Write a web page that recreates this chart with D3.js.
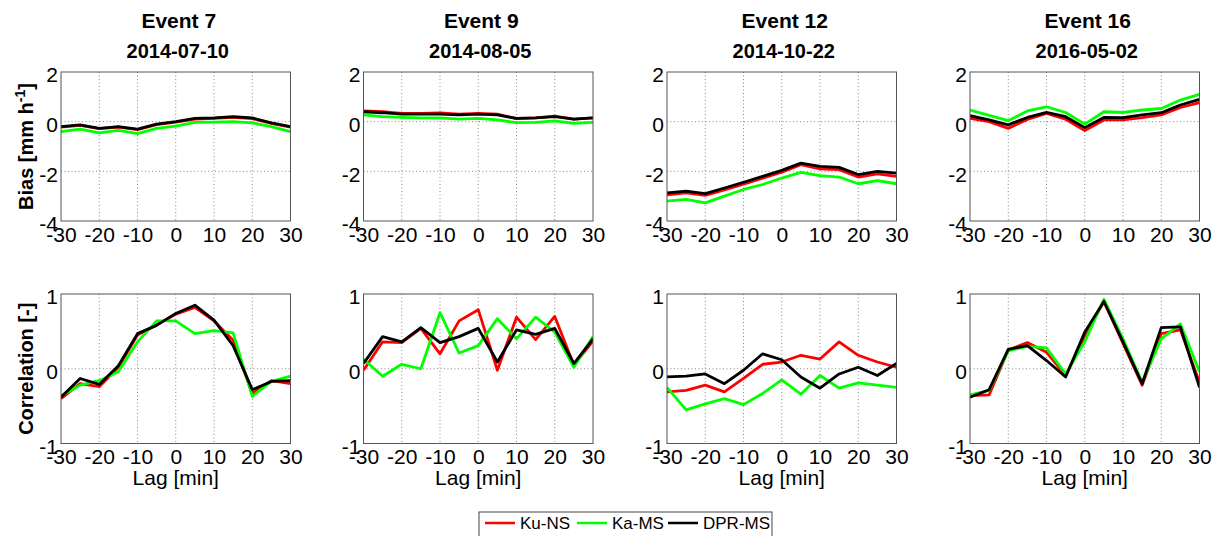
<!DOCTYPE html>
<html>
<head>
<meta charset="utf-8">
<script src="https://cdn.jsdelivr.net/npm/d3@7"></script>
<style>
  body { margin: 0; background: #fff; }
  text { font-family: "Liberation Sans", Arial, sans-serif; fill: #000; }
</style>
</head>
<body>
<svg id="chart" width="1220" height="536"></svg>
<script>
// lag axis and event labels
var lags = [-30, -25, -20, -15, -10, -5, 0, 5, 10, 15, 20, 25, 30];
var events = ["Event 7", "Event 9", "Event 12", "Event 16"];
var dates = ["2014-07-10", "2014-08-05", "2014-10-22", "2016-05-02"];
var seriesNames = ["Ku-NS", "Ka-MS", "DPR-MS"];
var seriesColors = ["#ff0000", "#00ff00", "#000000"];
var lagTicks = [-30, -20, -10, 0, 10, 20, 30];
var biasTicks = [-4, -2, 0, 2];
var corrTicks = [-1, 0, 1];

// bias [mm h-1], one array per event
var biasKu = [
  [-0.22, -0.15, -0.28, -0.22, -0.32, -0.12, -0.02, 0.1, 0.13, 0.17, 0.12, -0.07, -0.22],
  [0.43, 0.4, 0.33, 0.33, 0.35, 0.3, 0.33, 0.3, 0.12, 0.15, 0.22, 0.1, 0.15],
  [-2.95, -2.87, -2.97, -2.75, -2.52, -2.28, -2.03, -1.73, -1.9, -1.93, -2.23, -2.1, -2.2],
  [0.13, 0.0, -0.27, 0.09, 0.33, 0.1, -0.36, 0.07, 0.07, 0.16, 0.27, 0.57, 0.77]
];
var biasKa = [
  [-0.4, -0.3, -0.45, -0.35, -0.48, -0.27, -0.18, -0.03, -0.02, 0.0, -0.05, -0.2, -0.4],
  [0.27, 0.2, 0.17, 0.15, 0.15, 0.1, 0.13, 0.07, -0.04, -0.03, 0.03, -0.07, -0.03],
  [-3.2, -3.13, -3.27, -3.0, -2.73, -2.53, -2.27, -2.04, -2.17, -2.23, -2.5, -2.37, -2.5],
  [0.47, 0.25, 0.04, 0.43, 0.6, 0.37, -0.1, 0.4, 0.37, 0.47, 0.53, 0.87, 1.1]
];
var biasDpr = [
  [-0.2, -0.13, -0.27, -0.2, -0.3, -0.1, 0.0, 0.13, 0.15, 0.2, 0.15, -0.05, -0.2],
  [0.4, 0.36, 0.3, 0.3, 0.3, 0.27, 0.3, 0.27, 0.13, 0.15, 0.2, 0.1, 0.15],
  [-2.87, -2.8, -2.9, -2.67, -2.44, -2.2, -1.96, -1.67, -1.8, -1.84, -2.13, -2.0, -2.07],
  [0.24, 0.07, -0.13, 0.17, 0.37, 0.2, -0.24, 0.17, 0.16, 0.27, 0.36, 0.67, 0.9]
];

// correlation [-], one array per event
var corrKu = [
  [-0.4, -0.2, -0.24, 0.02, 0.45, 0.59, 0.73, 0.82, 0.64, 0.38, -0.33, -0.16, -0.2],
  [-0.02, 0.36, 0.35, 0.54, 0.2, 0.64, 0.79, -0.02, 0.69, 0.39, 0.7, 0.05, 0.37],
  [-0.31, -0.29, -0.22, -0.31, -0.13, 0.06, 0.09, 0.18, 0.13, 0.36, 0.18, 0.09, 0.02],
  [-0.36, -0.35, 0.25, 0.35, 0.22, -0.09, 0.43, 0.9, 0.34, -0.22, 0.47, 0.52, -0.18]
];
var corrKa = [
  [-0.36, -0.22, -0.16, -0.04, 0.36, 0.64, 0.64, 0.47, 0.51, 0.48, -0.37, -0.17, -0.1],
  [0.13, -0.1, 0.06, 0.0, 0.75, 0.21, 0.31, 0.67, 0.4, 0.69, 0.49, 0.02, 0.43],
  [-0.25, -0.55, -0.47, -0.4, -0.48, -0.33, -0.15, -0.34, -0.09, -0.26, -0.19, -0.22, -0.25],
  [-0.35, -0.29, 0.24, 0.3, 0.28, -0.07, 0.36, 0.93, 0.4, -0.18, 0.4, 0.6, -0.04]
];
var corrDpr = [
  [-0.38, -0.13, -0.21, 0.04, 0.47, 0.58, 0.74, 0.85, 0.65, 0.31, -0.28, -0.17, -0.16],
  [0.07, 0.43, 0.36, 0.55, 0.35, 0.43, 0.54, 0.09, 0.52, 0.46, 0.54, 0.07, 0.4],
  [-0.11, -0.1, -0.07, -0.2, -0.02, 0.2, 0.12, -0.11, -0.26, -0.07, 0.02, -0.09, 0.07],
  [-0.38, -0.28, 0.26, 0.31, 0.11, -0.11, 0.49, 0.9, 0.36, -0.2, 0.55, 0.56, -0.25]
];

var svg = d3.select("#chart");

var panelLefts = [61, 363.5, 667, 970];
var panelW = 229.5;
var rows = [
  { top: 72, bottom: 221, domain: [-4, 2], ticks: biasTicks, series: [biasKu, biasKa, biasDpr] },
  { top: 294, bottom: 443.5, domain: [-1, 1], ticks: corrTicks, series: [corrKu, corrKa, corrDpr] }
];

rows.forEach(function(row, r) {
  events.forEach(function(ev, i) {
    var x = d3.scaleLinear().domain([-30, 30]).range([0, panelW]);
    var y = d3.scaleLinear().domain(row.domain).range([row.bottom - row.top, 0]);
    var h = row.bottom - row.top;

    var g = svg.append("g")
      .attr("transform", "translate(" + panelLefts[i] + "," + row.top + ")");

    var clipId = "clip" + r + "_" + i;
    g.append("clipPath").attr("id", clipId)
      .append("rect").attr("width", panelW).attr("height", h);

    // dotted grid on interior ticks
    g.selectAll(".gx")
      .data(lagTicks.slice(1, -1))
      .enter().append("line")
      .attr("x1", function(d) { return x(d); })
      .attr("x2", function(d) { return x(d); })
      .attr("y1", 0).attr("y2", h)
      .attr("stroke", "#888").attr("stroke-width", 1)
      .attr("stroke-dasharray", "1,2.5");
    g.selectAll(".gy")
      .data(row.ticks.slice(1, -1))
      .enter().append("line")
      .attr("y1", function(d) { return y(d); })
      .attr("y2", function(d) { return y(d); })
      .attr("x1", 0).attr("x2", panelW)
      .attr("stroke", "#888").attr("stroke-width", 1)
      .attr("stroke-dasharray", "1,2.5");

    // data lines: Ku, Ka, DPR
    var line = d3.line()
      .x(function(d, k) { return x(lags[k]); })
      .y(function(d) { return y(d); });
    row.series.forEach(function(s, k) {
      g.append("path")
        .datum(s[i])
        .attr("clip-path", "url(#" + clipId + ")")
        .attr("fill", "none")
        .attr("stroke", seriesColors[k])
        .attr("stroke-width", 2.8)
        .attr("stroke-linejoin", "round")
        .attr("d", line);
    });

    // box
    g.append("rect")
      .attr("width", panelW).attr("height", h)
      .attr("fill", "none").attr("stroke", "#555").attr("stroke-width", 1);

    // axes
    var xAxis = g.append("g")
      .attr("transform", "translate(0," + h + ")")
      .call(d3.axisBottom(x).tickValues(lagTicks).tickSize(0).tickPadding(6)
        .tickFormat(function(d) { return String(d); }));
    var yAxis = g.append("g")
      .attr("transform", "translate(0,3)")
      .call(d3.axisLeft(y).tickValues(row.ticks).tickSize(0).tickPadding(3)
        .tickFormat(function(d) { return String(d); }));
    [xAxis, yAxis].forEach(function(a) {
      a.select(".domain").remove();
      a.selectAll("text")
        .attr("font-family", "Liberation Sans, Arial, sans-serif")
        .attr("font-size", 21)
        .attr("fill", "#000");
    });

    if (r === 0) {
      g.append("text")
        .attr("x", panelW / 2 + 3).attr("y", -44)
        .attr("text-anchor", "middle")
        .attr("font-size", 21).attr("font-weight", "bold")
        .text(ev);
      g.append("text")
        .attr("x", panelW / 2 + 2).attr("y", -14)
        .attr("text-anchor", "middle")
        .attr("font-size", 20).attr("font-weight", "bold")
        .text(dates[i]);
    } else {
      g.append("text")
        .attr("x", panelW / 2).attr("y", h + 41)
        .attr("text-anchor", "middle")
        .attr("font-size", 21)
        .text("Lag [min]");
    }

    if (i === 0) {
      var lab = g.append("text")
        .attr("transform", "translate(-28," + (h / 2) + ") rotate(-90)")
        .attr("text-anchor", "middle")
        .attr("font-size", 20).attr("font-weight", "bold");
      if (r === 0) {
        lab.append("tspan").text("Bias [mm h");
        lab.append("tspan").attr("dy", -8).attr("font-size", 14).text("-1");
        lab.append("tspan").attr("dy", 8).text("]");
      } else {
        lab.text("Correlation [-]");
      }
    }
  });
});

// legend
var legend = svg.append("g").attr("transform", "translate(479,512)");
legend.append("rect")
  .attr("width", 293).attr("height", 30)
  .attr("fill", "#fff").attr("stroke", "#444").attr("stroke-width", 1);
var legX = [6, 98, 189];
seriesNames.forEach(function(name, k) {
  legend.append("line")
    .attr("x1", legX[k]).attr("x2", legX[k] + 30)
    .attr("y1", 11).attr("y2", 11)
    .attr("stroke", seriesColors[k]).attr("stroke-width", 2.5);
  legend.append("text")
    .attr("x", legX[k] + 35).attr("y", 17)
    .attr("font-size", 17)
    .text(name);
});
</script>
</body>
</html>
